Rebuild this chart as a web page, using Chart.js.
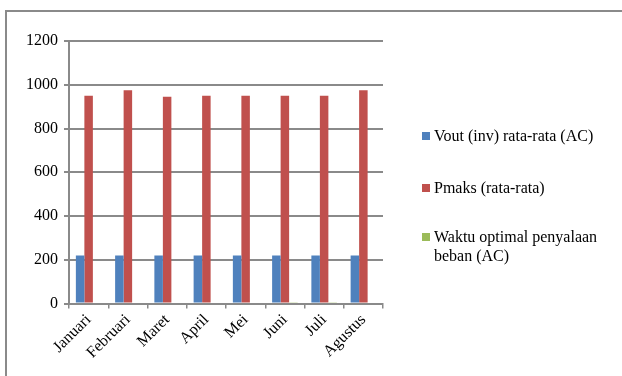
<!DOCTYPE html>
<html>
<head>
<meta charset="utf-8">
<script src="https://cdn.jsdelivr.net/npm/chart.js@4"></script>
<style>
  html, body { margin: 0; padding: 0; background: #fff; }
  #wrap { position: relative; width: 622px; height: 376px; overflow: hidden; }
  #frame { position: absolute; left: 5px; top: 10px; width: 700px; height: 500px;
           border-left: 2px solid #8a8a8a; border-top: 2px solid #8a8a8a; }
  canvas { position: absolute; left: 0; top: 0; }
  .lg { position: absolute; left: 422px; font-family: "Liberation Serif", serif; font-size: 16px;
        color: #000; line-height: 18.5px; width: 190px; }
  .lg .sw { position: absolute; left: 0; top: 5px; width: 8px; height: 8px; }
  .lg .tx { position: absolute; left: 12px; top: 0; width: 178px; }
</style>
</head>
<body>
<div id="wrap">
  <div id="frame"></div>
  <canvas id="c" width="622" height="376"></canvas>
  <div id="legend"></div>
</div>
<script>
const categories = ["Januari", "Februari", "Maret", "April", "Mei", "Juni", "Juli", "Agustus"];
const voutValues = [220, 220, 220, 220, 220, 220, 220, 220];
const pmaksValues = [950, 975, 945, 950, 950, 950, 950, 975];
const waktuValues = [0, 0, 0, 0, 0, 6, 6, 0];
const seriesLabels = ["Vout (inv) rata-rata (AC)", "Pmaks (rata-rata)", "Waktu optimal penyalaan beban (AC)"];
const seriesColors = ["#4F81BD", "#C0504D", "#9BBB59"];
const yTicks = [0, 200, 400, 600, 800, 1000, 1200];

const gridColor = "#8a8a8a";
const font = { family: "Liberation Serif", size: 16 };

const chart = new Chart(document.getElementById("c"), {
  type: "bar",
  data: {
    labels: categories,
    datasets: [voutValues, pmaksValues, waktuValues].map((d, i) => ({
      label: seriesLabels[i],
      data: d,
      backgroundColor: seriesColors[i],
      borderWidth: 0,
      categoryPercentage: 0.65,
      barPercentage: 1.0
    }))
  },
  options: {
    responsive: false,
    animation: false,
    layout: { padding: { left: 0, top: 41, right: 239, bottom: 0 } },
    plugins: { legend: { display: false }, tooltip: { enabled: false } },
    scales: {
      x: {
        grid: { display: true, drawOnChartArea: false, drawTicks: true, tickLength: 5, color: gridColor, lineWidth: 1.5, offset: true },
        border: { display: true, color: gridColor, width: 2 },
        ticks: { color: "#000", font: font, minRotation: 45, maxRotation: 45, padding: 2 },
        afterFit: s => { s.height = 376 - 303.5; }
      },
      y: {
        min: 0, max: 1200,
        afterBuildTicks: s => { s.ticks = yTicks.map(v => ({ value: v })); },
        grid: { color: gridColor, lineWidth: 2, tickLength: 5, drawTicks: true },
        border: { display: true, color: gridColor, width: 2 },
        ticks: { color: "#000", font: font, padding: 6, callback: v => String(v) },
        afterFit: s => { s.width = 69; }
      }
    }
  }
});

// HTML legend built from datasets
const tops = [127, 179, 228];
const lg = document.getElementById("legend");
chart.data.datasets.forEach((ds, i) => {
  const item = document.createElement("div");
  item.className = "lg";
  item.style.top = tops[i] + "px";
  item.innerHTML = '<span class="sw" style="background:' + ds.backgroundColor + '"></span><span class="tx"></span>';
  item.querySelector(".tx").textContent = ds.label;
  lg.appendChild(item);
});
</script>
</body>
</html>
